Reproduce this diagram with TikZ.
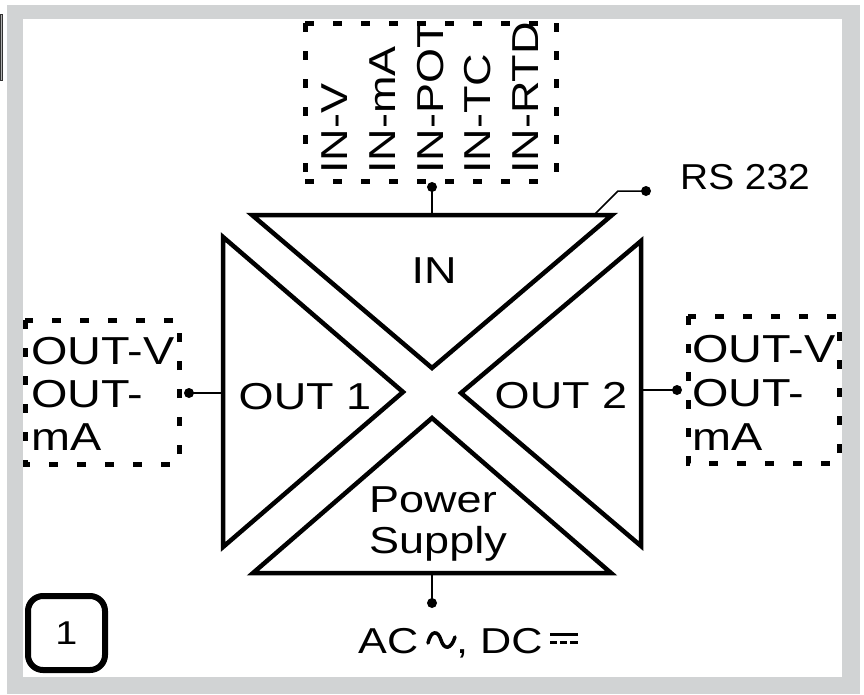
\documentclass[tikz,border=0pt]{standalone}
\usepackage{fontspec}
\setmainfont{Liberation Sans}
\newfontfamily\lblfont[FakeStretch=1.2]{Liberation Sans}
\newfontfamily\rsfont[FakeStretch=1.08]{Liberation Sans}
\definecolor{framegray}{RGB}{209,211,212}
\tikzset{
  tri/.style={draw=black, line width=4.5pt, line join=miter},
  dbox/.style={draw=black, line width=5pt, dash pattern=on 9pt off 19pt},
  wire/.style={draw=black, line width=1.5pt},
  jdot/.style={circle, fill=black, inner sep=0pt, minimum size=10pt},
  lbl/.style={inner sep=0pt, font=\lblfont\fontsize{37.5}{43}\selectfont},
  blbl/.style={inner sep=0pt, anchor=base west, font=\lblfont\fontsize{39}{43}\selectfont},
  vlbl/.style={lbl, rotate=90, anchor=base west},
}
\begin{document}
\begin{tikzpicture}[x=1pt,y=-1pt]
\useasboundingbox (0,0) rectangle (864,694);
% frame
\fill[framegray] (7,5) rectangle (860,694);
\fill[white] (23,19) rectangle (842,677);
\filldraw[fill=gray!60, draw=black!80, line width=1pt] (0,14) rectangle (2,80);

% triangles
\draw[tri] (252,215) -- (612,215) -- (432,368) -- cycle;
\draw[tri] (223,237) -- (223,547) -- (403,392) -- cycle;
\draw[tri] (641,241) -- (641,546) -- (461,393) -- cycle;
\draw[tri] (253,573) -- (611,573) -- (432,418) -- cycle;

% triangle labels
\node[lbl, anchor=base] (inl) at (434,283) {IN};
\node[lbl, anchor=base] (o1l) at (305,409) {OUT 1};
\node[lbl, anchor=base] (o2l) at (561,408) {OUT 2};
\node[lbl, anchor=base west] (pwl) at (369,512) {Power};
\node[lbl, anchor=base west] (spl) at (369,553) {Supply};

% input box
\draw[dbox] (305,23) -- (548,23);
\draw[dbox] (305,23) -- (305,181);
\draw[dbox] (305,181) -- (548,181);
\draw[dbox] (556,23) -- (556,178);
\node[vlbl] (iv) at (347,174) {IN-V};
\node[vlbl] (ima) at (395,174) {IN-mA};
\node[vlbl] (ipot) at (443,174) {IN-POT};
\node[vlbl] (itc) at (490,174) {IN-TC};
\node[vlbl] (irtd) at (538,174) {IN-RTD};

% output boxes
\draw[dbox] (25,320) rectangle (179,464);
\node[blbl] (l1) at (31,364) {OUT-V};
\node[blbl] (l2) at (31,407) {OUT-};
\node[blbl] (l3) at (31,450) {mA};
\draw[dbox] (688,316) rectangle (839,463);
\node[blbl] (r1) at (692,362) {OUT-V};
\node[blbl] (r2) at (692,406) {OUT-};
\node[blbl] (r3) at (692,450) {mA};

% connector points
\coordinate (inTop) at (432,215);
\coordinate (rsStart) at (594,215);
\coordinate (rsBend) at (618,191);
\coordinate (o1Edge) at (223,393);
\coordinate (o2Edge) at (641,390);
\coordinate (psBot) at (432,573);

\node[jdot] (dIn) at (432,187) {};
\node[jdot] (dRs) at (646,191) {};
\node[jdot] (dL) at (189,393) {};
\node[jdot] (dR) at (677,390) {};
\node[jdot] (dPs) at (432,603) {};

\draw[wire] (dIn.center) -- (inTop);
\draw[wire] (rsStart) -- (rsBend) -- (dRs.center);
\draw[wire] (dL.center) -- (o1Edge);
\draw[wire] (o2Edge) -- (dR.center);
\draw[wire] (psBot) -- (dPs.center);

\node[inner sep=0pt, anchor=base west, font=\rsfont\fontsize{36}{42}\selectfont] (rs) at (680,189) {RS 232};

% supply text
\node[lbl, anchor=base west, font=\lblfont\fontsize{36}{42}\selectfont] (ac) at (358,653) {AC};
\draw[line width=3.5pt, line cap=round] (428,643) .. controls (431,630) and (438,630) .. (441,640) .. controls (444,650) and (451,650) .. (455,637);
\node[lbl, anchor=base west, font=\lblfont\fontsize{36}{42}\selectfont] (dc) at (456,653) {, DC};
\draw[line width=3pt] (550,634) -- (578,634);
\draw[line width=3pt] (550,642) -- (557,642) (560,642) -- (567,642) (570,642) -- (578,642);

% number box
\node[draw=black, line width=6pt, rounded corners=15pt, minimum width=77pt, minimum height=74pt, inner sep=0pt, font=\lblfont\fontsize{33}{38}\selectfont] (one) at (66.5,633) {1};
\end{tikzpicture}
\end{document}
